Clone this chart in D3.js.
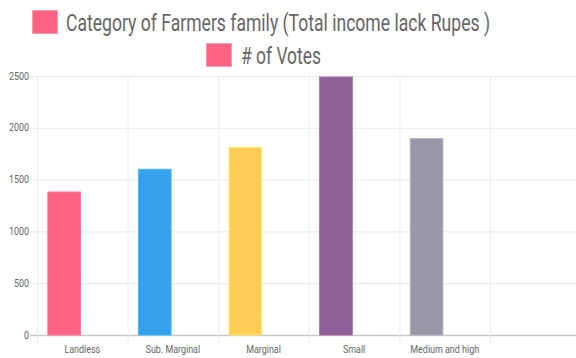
<!DOCTYPE html>
<html>
<head>
    <script src="https://d3js.org/d3.v7.min.js"></script>
    <style>
        body { margin: 0; background: #fff; }
        text { font-family: Roboto, "Noto Sans", sans-serif; }
    </style>
</head>
<body>
    <div id="chart"></div>
    <script>
        var categories = ["Landless", "Sub. Marginal", "Marginal", "Small", "Medium and high", ""];
        var votes = [1380, 1600, 1810, 2490, 1895];
        var barColors = ["#ff6384", "#36a2eb", "#ffcd56", "#905e98", "#9b97a8"];
        var seriesNames = ["Category of Farmers family (Total income lack Rupes )", "# of Votes"];
        var yTicks = [0, 500, 1000, 1500, 2000, 2500];

        var width = 576, height = 358;
        var plotLeft = 37, plotRight = 580.6, plotTop = 76, plotBottom = 335;

        var svg = d3.select("#chart").append("svg")
            .attr("width", width)
            .attr("height", height);

        // squeeze text horizontally to mimic a condensed face
        function condense(sel, k) {
            sel.each(function() {
                var w = this.getComputedTextLength();
                if (w > 0) d3.select(this).attr("textLength", w * k).attr("lengthAdjust", "spacingAndGlyphs");
            });
        }

        // legend
        var legend = [
            { name: seriesNames[0], bx: 32, by: 10, tx: 66, ty: 31, tw: 424 },
            { name: seriesNames[1], bx: 206, by: 43, tx: 241, ty: 64, tw: 80 }
        ];
        legend.forEach(function(l) {
            svg.append("rect")
                .attr("x", l.bx + 0.5).attr("y", l.by + 0.5)
                .attr("width", 25).attr("height", 23)
                .attr("fill", "#ff6384")
                .attr("stroke", "#ff9ab0").attr("stroke-width", 1);
            svg.append("text")
                .attr("x", l.tx).attr("y", l.ty)
                .attr("font-size", 23)
                .attr("fill", "#666")
                .attr("textLength", l.tw)
                .attr("lengthAdjust", "spacingAndGlyphs")
                .text(l.name);
        });

        var x = d3.scaleBand().domain(categories.map(function(d, i) { return i; }))
            .range([plotLeft, plotRight]);
        var inner = d3.scaleBand().domain([0, 1])
            .range([x.bandwidth() * 0.1, x.bandwidth() * 0.9])
            .paddingInner(0.1).paddingOuter(0.05);
        var y = d3.scaleLinear().domain([0, 2500]).range([plotBottom, plotTop]);

        // horizontal grid
        svg.append("g").selectAll("line").data(yTicks).enter().append("line")
            .attr("x1", plotLeft - 7).attr("x2", width)
            .attr("y1", function(d) { return y(d) + 0.5; })
            .attr("y2", function(d) { return y(d) + 0.5; })
            .attr("stroke", function(d) { return d === 0 ? "#c8c8c8" : "#ebebeb"; })
            .attr("stroke-width", function(d) { return d === 0 ? 1.5 : 1; });

        // vertical grid
        svg.append("g").selectAll("line").data(categories).enter().append("line")
            .attr("x1", function(d, i) { return x(i) + 0.5; })
            .attr("x2", function(d, i) { return x(i) + 0.5; })
            .attr("y1", plotTop).attr("y2", plotBottom + 8)
            .attr("stroke", "#ebebeb");

        // y labels
        svg.append("g").selectAll("text").data(yTicks).enter().append("text")
            .attr("x", plotLeft - 8)
            .attr("y", function(d) { return y(d) + 3.5; })
            .attr("text-anchor", "end")
            .attr("font-size", 10.5)
            .attr("fill", "#666")
            .text(function(d) { return d; })
            .call(condense, 0.85);

        // x labels
        svg.append("g").selectAll("text").data(categories).enter().append("text")
            .attr("x", function(d, i) { return x(i) + x.bandwidth() / 2; })
            .attr("y", 353)
            .attr("text-anchor", "middle")
            .attr("font-size", 10.5)
            .attr("fill", "#666")
            .text(function(d) { return d; })
            .call(condense, 0.85);

        // bars
        svg.append("g").selectAll("rect").data(votes).enter().append("rect")
            .attr("x", function(d, i) { return x(i) + inner(0); })
            .attr("width", inner.bandwidth())
            .attr("y", function(d) { return y(d); })
            .attr("height", function(d) { return plotBottom - y(d); })
            .attr("fill", function(d, i) { return barColors[i]; })
            .attr("stroke", function(d, i) { return d3.color(barColors[i]).brighter(0.4); })
            .attr("stroke-width", 1);
    </script>
</body>
</html>
